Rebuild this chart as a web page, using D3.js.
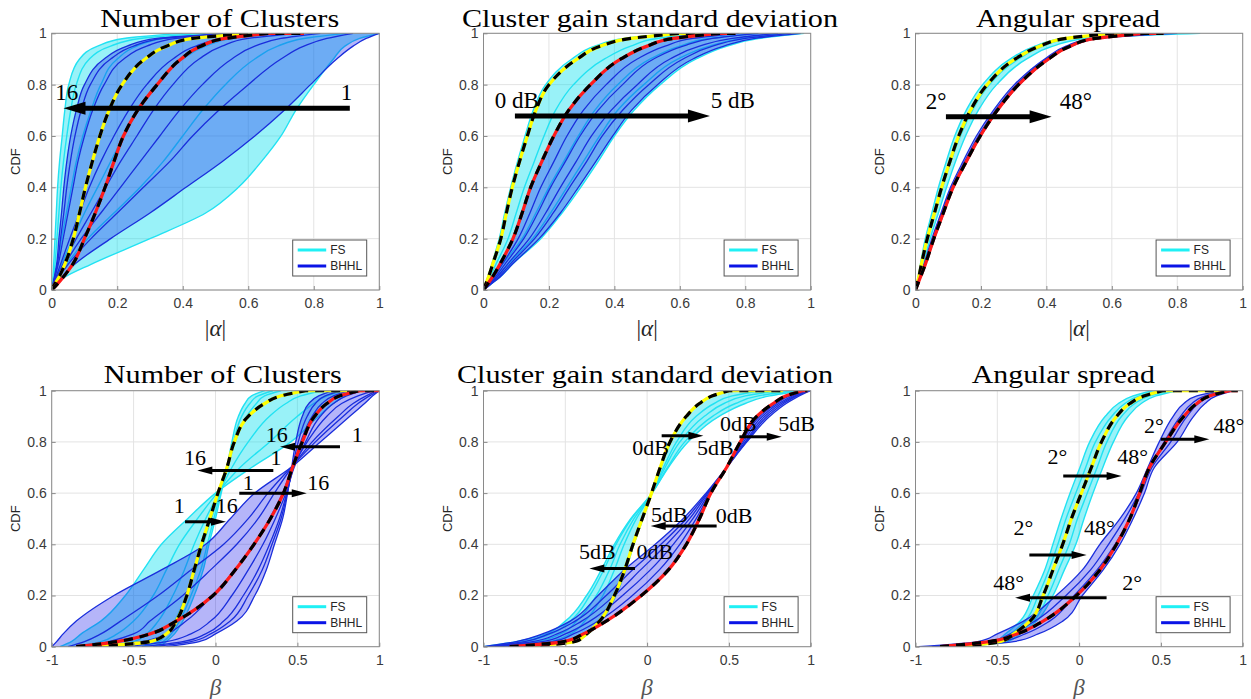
<!DOCTYPE html>
<html>
<head>
<meta charset="utf-8">
<script src="https://cdn.jsdelivr.net/npm/d3@7"></script>
<style>
  body { margin: 0; background: #fff; }
  svg { display: block; }
</style>
</head>
<body>
<div id="chart"></div>
<script>
// CDF levels at which every curve is sampled (x value of each curve at that CDF)
var cdfLevels = [0, 0.02, 0.05, 0.1, 0.2, 0.3, 0.4, 0.5, 0.6, 0.7, 0.8, 0.9, 0.95, 0.98, 1];
var yTicks = [0, 0.2, 0.4, 0.6, 0.8, 1];
var alphaTicks = [0, 0.2, 0.4, 0.6, 0.8, 1];
var betaTicks = [-1, -0.5, 0, 0.5, 1];
var titles = ["Number of Clusters", "Cluster gain standard deviation", "Angular spread"];
var legendNames = ["FS", "BHHL"];

// ---- top row, |alpha| ----
// Number of clusters: first row = 16 clusters, last row = 1 cluster
var p1FS = [
  [0, .002, .004, .006, .01, .014, .018, .024, .032, .04, .052, .085, .14, .22, .4],
  [0, .003, .006, .01, .016, .022, .028, .036, .046, .058, .075, .115, .18, .27, .47],
  [0, .004, .009, .017, .03, .045, .06, .075, .095, .12, .15, .2, .26, .34, .55],
  [0, .006, .015, .03, .065, .1, .14, .18, .22, .265, .32, .4, .47, .55, .7],
  [0, .008, .02, .045, .11, .19, .27, .34, .4, .46, .53, .62, .69, .77, .9],
  [0, .01, .04, .12, .3, .47, .57, .64, .7, .745, .8, .86, .895, .94, 1]
];
var p1BH = [
  [0, .003, .008, .015, .022, .03, .037, .046, .058, .075, .1, .16, .23, .32, .55],
  [0, .0035, .009, .017, .027, .037, .046, .057, .071, .09, .118, .18, .25, .34, .57],
  [0, .004, .01, .02, .035, .05, .065, .08, .1, .125, .16, .22, .29, .38, .6],
  [0, .005, .013, .027, .055, .085, .115, .15, .19, .235, .29, .37, .44, .53, .7],
  [0, .006, .016, .034, .075, .12, .165, .21, .26, .31, .37, .45, .52, .6, .75],
  [0, .007, .018, .04, .09, .15, .21, .27, .33, .39, .46, .55, .62, .7, .82],
  [0, .008, .022, .05, .12, .2, .28, .36, .43, .51, .6, .7, .77, .84, .92],
  [0, .01, .03, .07, .18, .3, .41, .52, .62, .71, .79, .87, .92, .96, 1]
];
var p1FSref = [0, .008, .022, .04, .066, .085, .103, .124, .147, .175, .215, .285, .35, .43, .62];
var p1BHref = [0, .015, .035, .064, .1, .133, .163, .19, .219, .262, .322, .395, .455, .53, .66];
var p1Tails = [0.77, 0.77];
var p1Arrows = [[0.91, 0.708, 0.036, 0.708]];
var p1Labels = [[0.046, 0.771, "16"], [0.9, 0.771, "1"]];

// Cluster gain std: first row = 0 dB, last row = 5 dB
var p2FS = [
  [0, .005, .013, .025, .048, .065, .083, .104, .127, .152, .19, .27, .34, .43, .58],
  [0, .008, .02, .038, .075, .1, .125, .155, .185, .22, .275, .37, .45, .53, .68],
  [0, .012, .03, .058, .118, .16, .2, .245, .29, .34, .41, .51, .6, .69, .84],
  [0, .016, .04, .075, .15, .205, .255, .305, .355, .41, .49, .595, .69, .79, .93],
  [0, .02, .05, .088, .175, .24, .297, .35, .40, .46, .54, .65, .745, .84, .98]
];
var p2BH = [
  [0, .011, .027, .05, .09, .118, .144, .178, .215, .26, .327, .42, .5, .58, .72],
  [0, .013, .031, .057, .106, .142, .175, .215, .255, .305, .375, .47, .555, .64, .78],
  [0, .015, .036, .065, .123, .166, .205, .25, .295, .35, .425, .52, .61, .7, .84],
  [0, .017, .041, .073, .14, .19, .235, .283, .33, .39, .47, .57, .66, .76, .9],
  [0, .019, .046, .081, .156, .213, .263, .315, .363, .425, .505, .61, .70, .80, .94],
  [0, .02, .05, .088, .17, .235, .29, .343, .395, .452, .532, .64, .735, .83, .97]
];
var p2FSref = [0, .006, .015, .028, .053, .07, .088, .11, .134, .16, .2, .287, .358, .45, .6];
var p2BHref = [0, .011, .027, .05, .09, .118, .144, .178, .215, .26, .327, .42, .5, .58, .72];
var p2Tails = [0.765, 0.77];
var p2Arrows = [[0.096, 0.678, 0.692, 0.678]];
var p2Labels = [[0.102, 0.74, "0 dB"], [0.762, 0.74, "5 dB"]];

// Angular spread: first row = 2 deg, last row = 48 deg
var p3FS = [
  [0, .003, .008, .015, .03, .05, .07, .094, .12, .155, .205, .29, .365, .45, .6],
  [0, .004, .01, .019, .037, .06, .083, .108, .137, .174, .226, .315, .39, .47, .7],
  [0, .005, .012, .024, .045, .07, .095, .122, .153, .192, .248, .34, .42, .52, .87]
];
var p3BH = [
  [0, .005, .013, .026, .05, .078, .107, .145, .186, .238, .302, .395, .46, .54, .72],
  [0, .0055, .014, .028, .053, .081, .111, .15, .192, .244, .308, .4, .467, .55, .76],
  [0, .006, .016, .031, .058, .087, .117, .157, .2, .252, .318, .41, .477, .56, .8]
];
var p3FSref = [0, .004, .01, .018, .036, .058, .08, .105, .132, .168, .219, .305, .38, .46, .6];
var p3BHref = [0, .006, .015, .03, .056, .085, .115, .155, .198, .25, .315, .407, .473, .55, .7];
var p3Tails = [0.7, 0.758];
var p3Arrows = [[0.093, 0.675, 0.416, 0.675]];
var p3Labels = [[0.063, 0.736, "2°"], [0.49, 0.736, "48°"]];

// ---- bottom row, beta ----
var p4FS = [
  [-0.95, -0.88, -0.82, -0.7, -0.55, -0.44, -0.33, -0.17, 0.0, 0.22, 0.46, 0.63, 0.72, 0.79, 0.85],
  [-0.85, -0.7, -0.6, -0.5, -0.38, -0.3, -0.22, -0.11, 0.01, 0.15, 0.33, 0.5, 0.6, 0.68, 0.78],
  [-0.7, -0.5, -0.42, -0.35, -0.26, -0.19, -0.13, -0.06, 0.02, 0.1, 0.2, 0.33, 0.43, 0.52, 0.65],
  [-0.45, -0.35, -0.3, -0.25, -0.18, -0.12, -0.075, -0.025, 0.025, 0.075, 0.12, 0.19, 0.25, 0.3, 0.4],
  [-0.38, -0.32, -0.27, -0.22, -0.15, -0.09, -0.05, -0.01, 0.03, 0.07, 0.11, 0.16, 0.21, 0.26, 0.35],
  [-0.34, -0.3, -0.25, -0.2, -0.13, -0.075, -0.04, 0.0, 0.035, 0.07, 0.1, 0.14, 0.18, 0.22, 0.3]
];
var p4BH = [
  [-1, -0.97, -0.93, -0.85, -0.62, -0.33, -0.06, 0.09, 0.24, 0.46, 0.64, 0.82, 0.91, 0.96, 1],
  [-0.9, -0.8, -0.7, -0.58, -0.35, -0.15, 0.05, 0.2, 0.32, 0.46, 0.61, 0.78, 0.87, 0.94, 1],
  [-0.8, -0.65, -0.5, -0.4, -0.2, -0.03, 0.13, 0.26, 0.36, 0.465, 0.59, 0.75, 0.84, 0.92, 0.99],
  [-0.7, -0.45, -0.3, -0.18, -0.02, 0.12, 0.24, 0.33, 0.41, 0.47, 0.56, 0.68, 0.77, 0.87, 0.97],
  [-0.55, -0.3, -0.15, -0.03, 0.1, 0.2, 0.29, 0.365, 0.43, 0.48, 0.55, 0.64, 0.72, 0.8, 0.9],
  [-0.45, -0.2, -0.06, 0.05, 0.17, 0.26, 0.33, 0.39, 0.435, 0.475, 0.52, 0.59, 0.65, 0.72, 0.82],
  [-0.38, -0.15, -0.03, 0.09, 0.2, 0.285, 0.345, 0.4, 0.438, 0.47, 0.505, 0.56, 0.61, 0.67, 0.77],
  [-0.3, -0.1, 0.0, 0.13, 0.24, 0.31, 0.36, 0.41, 0.44, 0.465, 0.49, 0.53, 0.57, 0.63, 0.72]
];
var p4FSref = [-0.75, -0.4, -0.3, -0.24, -0.175, -0.13, -0.085, -0.035, 0.015, 0.07, 0.115, 0.2, 0.3, 0.4, 0.55];
var p4BHref = [-0.85, -0.6, -0.4, -0.24, -0.015, 0.12, 0.235, 0.335, 0.415, 0.47, 0.53, 0.605, 0.68, 0.76, 0.88];
var p4Tails = [0.9, 1.0];
var p4Arrows = [[0.76, 0.781, 0.394, 0.781], [0.353, 0.688, -0.111, 0.688],
                [0.145, 0.599, 0.557, 0.599], [-0.186, 0.488, 0.064, 0.488]];
var p4Labels = [[0.374, 0.83, "16"], [0.866, 0.83, "1"], [-0.125, 0.74, "16"], [0.369, 0.74, "1"],
                [0.2, 0.64, "1"], [0.628, 0.64, "16"], [-0.221, 0.551, "1"], [0.068, 0.551, "16"]];

var p5FS = [
  [-0.75, -0.45, -0.36, -0.28, -0.19, -0.13, -0.08, -0.025, 0.03, 0.085, 0.145, 0.24, 0.32, 0.4, 0.5],
  [-0.85, -0.6, -0.47, -0.38, -0.27, -0.2, -0.14, -0.065, 0.03, 0.1, 0.18, 0.3, 0.41, 0.52, 0.7],
  [-0.92, -0.68, -0.53, -0.43, -0.31, -0.23, -0.165, -0.08, 0.03, 0.11, 0.2, 0.35, 0.47, 0.6, 0.8],
  [-0.97, -0.75, -0.59, -0.47, -0.35, -0.265, -0.19, -0.095, 0.03, 0.125, 0.23, 0.4, 0.54, 0.68, 0.9],
  [-1, -0.8, -0.62, -0.5, -0.37, -0.28, -0.2, -0.1, 0.03, 0.13, 0.25, 0.44, 0.6, 0.75, 0.95]
];
var p5BH = [
  [-0.85, -0.5, -0.39, -0.25, -0.035, 0.13, 0.24, 0.32, 0.39, 0.486, 0.57, 0.67, 0.77, 0.85, 0.95],
  [-0.9, -0.58, -0.45, -0.3, -0.09, 0.075, 0.2, 0.3, 0.385, 0.486, 0.58, 0.69, 0.79, 0.87, 0.96],
  [-0.93, -0.64, -0.5, -0.35, -0.15, 0.02, 0.16, 0.28, 0.38, 0.486, 0.59, 0.705, 0.805, 0.89, 0.97],
  [-0.96, -0.7, -0.55, -0.4, -0.2, -0.04, 0.12, 0.26, 0.372, 0.486, 0.6, 0.72, 0.82, 0.905, 0.98],
  [-0.98, -0.75, -0.6, -0.44, -0.25, -0.09, 0.085, 0.24, 0.366, 0.486, 0.605, 0.735, 0.835, 0.915, 0.99],
  [-1, -0.8, -0.64, -0.47, -0.3, -0.14, 0.05, 0.22, 0.36, 0.486, 0.61, 0.75, 0.85, 0.93, 1]
];
var p5FSref = [-0.75, -0.44, -0.37, -0.29, -0.2, -0.137, -0.086, -0.03, 0.027, 0.08, 0.14, 0.24, 0.32, 0.4, 0.5];
var p5BHref = [-0.84, -0.51, -0.39, -0.25, -0.035, 0.13, 0.24, 0.32, 0.39, 0.486, 0.57, 0.67, 0.77, 0.85, 0.95];
var p5Tails = [0.83, 0.98];
var p5Arrows = [[0.089, 0.824, 0.344, 0.824], [0.564, 0.82, 0.823, 0.82],
                [0.425, 0.471, 0.022, 0.471], [-0.074, 0.305, -0.353, 0.305]];
var p5Labels = [[0.022, 0.779, "0dB"], [0.417, 0.779, "5dB"], [0.557, 0.873, "0dB"], [0.914, 0.873, "5dB"],
                [0.136, 0.518, "5dB"], [0.531, 0.514, "0dB"], [-0.304, 0.373, "5dB"], [0.048, 0.373, "0dB"]];

var p6FS = [
  [-0.8, -0.52, -0.45, -0.36, -0.28, -0.21, -0.16, -0.11, -0.055, 0.005, 0.065, 0.16, 0.24, 0.33, 0.45],
  [-0.77, -0.5, -0.42, -0.33, -0.25, -0.185, -0.13, -0.08, -0.02, 0.04, 0.1, 0.2, 0.28, 0.37, 0.5],
  [-0.72, -0.46, -0.38, -0.28, -0.19, -0.125, -0.06, -0.01, 0.05, 0.11, 0.17, 0.26, 0.34, 0.43, 0.55],
  [-0.7, -0.44, -0.36, -0.26, -0.16, -0.09, -0.02, 0.03, 0.085, 0.145, 0.21, 0.3, 0.38, 0.47, 0.6]
];
var p6BH = [
  [-0.98, -0.62, -0.5, -0.34, -0.14, 0.02, 0.127, 0.25, 0.35, 0.42, 0.49, 0.575, 0.64, 0.72, 0.88],
  [-0.9, -0.55, -0.42, -0.27, -0.08, 0.07, 0.18, 0.28, 0.365, 0.43, 0.52, 0.62, 0.69, 0.77, 0.9],
  [-0.85, -0.48, -0.33, -0.18, -0.03, 0.11, 0.22, 0.31, 0.38, 0.445, 0.56, 0.66, 0.73, 0.81, 0.93],
  [-0.8, -0.4, -0.25, -0.1, 0.02, 0.147, 0.25, 0.33, 0.4, 0.46, 0.6, 0.7, 0.77, 0.84, 0.95]
];
var p6FSref = [-0.75, -0.48, -0.4, -0.3, -0.22, -0.16, -0.1, -0.047, 0.014, 0.075, 0.137, 0.23, 0.31, 0.4, 0.51];
var p6BHref = [-0.85, -0.55, -0.38, -0.22, -0.016, 0.127, 0.229, 0.31, 0.37, 0.43, 0.53, 0.64, 0.72, 0.8, 0.92];
var p6Tails = [0.9, 0.97];
var p6Arrows = [[-0.097, 0.667, 0.26, 0.667], [0.499, 0.81, 0.796, 0.81],
                [-0.304, 0.358, 0.046, 0.358], [0.168, 0.191, -0.392, 0.191]];
var p6Labels = [[-0.133, 0.742, "2°"], [0.328, 0.742, "48°"], [0.458, 0.866, "2°"], [0.916, 0.866, "48°"],
                [-0.341, 0.466, "2°"], [0.124, 0.466, "48°"], [-0.43, 0.251, "48°"], [0.325, 0.251, "2°"]];

var panels = [
  {fs: p1FS, bh: p1BH, fsRef: p1FSref, bhRef: p1BHref, tails: p1Tails, arrows: p1Arrows, labels: p1Labels},
  {fs: p2FS, bh: p2BH, fsRef: p2FSref, bhRef: p2BHref, tails: p2Tails, arrows: p2Arrows, labels: p2Labels},
  {fs: p3FS, bh: p3BH, fsRef: p3FSref, bhRef: p3BHref, tails: p3Tails, arrows: p3Arrows, labels: p3Labels},
  {fs: p4FS, bh: p4BH, fsRef: p4FSref, bhRef: p4BHref, tails: p4Tails, arrows: p4Arrows, labels: p4Labels},
  {fs: p5FS, bh: p5BH, fsRef: p5FSref, bhRef: p5BHref, tails: p5Tails, arrows: p5Arrows, labels: p5Labels},
  {fs: p6FS, bh: p6BH, fsRef: p6FSref, bhRef: p6BHref, tails: p6Tails, arrows: p6Arrows, labels: p6Labels}
];

// layout (pixels)
var W = 1251, H = 699;
var colX = [[51.7, 379.3], [483.5, 810.7], [915.5, 1242.7]];
var rowY = [[290, 33.3], [646.7, 390.7]];
var titlePos = [[219.7, 239], [650, 376], [1068, 184], [222.8, 238], [645, 376], [1063.3, 183]];
var titleBase = [26.5, 382.7];
var sans = "'Liberation Sans', Arial, sans-serif";
var serif = "'Liberation Serif', 'Times New Roman', serif";

var fsLine = "#22e2f2", bhLine = "#1a2edc";

var svg = d3.select("#chart").append("svg")
    .attr("width", W).attr("height", H);

function arrow(g, x1, y1, x2, y2, w, hl, hw) {
  var dx = x2 - x1, dy = y2 - y1, len = Math.sqrt(dx * dx + dy * dy);
  var ux = dx / len, uy = dy / len;
  var bx = x2 - ux * hl, by = y2 - uy * hl;
  g.append("line")
      .attr("x1", x1).attr("y1", y1).attr("x2", bx + ux * 2).attr("y2", by + uy * 2)
      .attr("stroke", "#000").attr("stroke-width", w);
  g.append("path")
      .attr("d", "M" + x2 + "," + y2 +
                 "L" + (bx - uy * hw / 2) + "," + (by + ux * hw / 2) +
                 "L" + (bx + uy * hw / 2) + "," + (by - ux * hw / 2) + "Z")
      .attr("fill", "#000");
}

panels.forEach(function (p, i) {
  var col = i % 3, row = Math.floor(i / 3);
  var xs = d3.scaleLinear().domain(row == 0 ? [0, 1] : [-1, 1]).range(colX[col]);
  var ys = d3.scaleLinear().domain([0, 1]).range(rowY[row]);
  var x0 = colX[col][0], x1 = colX[col][1], yb = rowY[row][0], yt = rowY[row][1];
  var xTicks = row == 0 ? alphaTicks : betaTicks;

  var g = svg.append("g");
  var clipId = "clip" + i;
  g.append("clipPath").attr("id", clipId).append("rect")
      .attr("x", x0).attr("y", yt).attr("width", x1 - x0).attr("height", yb - yt);

  // grid
  g.selectAll(".gx").data(xTicks).enter().append("line")
      .attr("x1", function (d) { return xs(d); }).attr("x2", function (d) { return xs(d); })
      .attr("y1", yt).attr("y2", yb).attr("stroke", "#e3e3e3");
  g.selectAll(".gy").data(yTicks).enter().append("line")
      .attr("y1", function (d) { return ys(d); }).attr("y2", function (d) { return ys(d); })
      .attr("x1", x0).attr("x2", x1).attr("stroke", "#e3e3e3");

  var plot = g.append("g").attr("clip-path", "url(#" + clipId + ")");

  function band(a, b) {
    return d3.area()
        .y(function (d, k) { return ys(cdfLevels[k]); })
        .x0(function (d, k) { return xs(a[k]); })
        .x1(function (d, k) { return xs(b[k]); })
        .curve(d3.curveMonotoneY)(cdfLevels);
  }
  var line = d3.line()
      .x(function (d) { return xs(d); })
      .y(function (d, k) { return ys(cdfLevels[k]); })
      .curve(d3.curveMonotoneY);

  // FS band + lines
  plot.append("path").attr("d", band(p.fs[0], p.fs[p.fs.length - 1]))
      .attr("fill", "rgb(0,222,238)").attr("fill-opacity", 0.4);
  p.fs.forEach(function (c) {
    plot.append("path").attr("d", line(c)).attr("fill", "none")
        .attr("stroke", fsLine).attr("stroke-width", 1.4);
  });
  // BHHL band + lines
  plot.append("path").attr("d", band(p.bh[0], p.bh[p.bh.length - 1]))
      .attr("fill", "rgb(10,10,235)").attr("fill-opacity", 0.3);
  p.bh.forEach(function (c) {
    plot.append("path").attr("d", line(c)).attr("fill", "none")
        .attr("stroke", bhLine).attr("stroke-width", 1.3);
  });

  // reference curves: solid colour under black dashes, with flat tail at CDF = 1
  [[p.fsRef, "#ffff00", p.tails[0]], [p.bhRef, "#ff1a1a", p.tails[1]]].forEach(function (r) {
    var d = line(r[0]) + "L" + xs(r[2]) + "," + ys(1);
    plot.append("path").attr("d", d).attr("fill", "none")
        .attr("stroke", r[1]).attr("stroke-width", 3.2);
    plot.append("path").attr("d", d).attr("fill", "none")
        .attr("stroke", "#000").attr("stroke-width", 3.2)
        .attr("stroke-dasharray", "9,7");
  });

  // axes box
  g.append("rect").attr("x", x0).attr("y", yt).attr("width", x1 - x0).attr("height", yb - yt)
      .attr("fill", "none").attr("stroke", "#8a8a8a").attr("stroke-width", 1);

  var ax = g.append("g").attr("transform", "translate(0," + yb + ")")
      .call(d3.axisBottom(xs).tickValues(xTicks).tickSize(-4).tickPadding(8)
            .tickFormat(function (d) { return String(d); }));
  var ay = g.append("g").attr("transform", "translate(" + x0 + ",0)")
      .call(d3.axisLeft(ys).tickValues(yTicks).tickSize(-4).tickPadding(5)
            .tickFormat(function (d) { return String(d); }));
  [ax, ay].forEach(function (a) {
    a.select(".domain").remove();
    a.selectAll(".tick line").attr("stroke", "#8a8a8a");
    a.selectAll("text").attr("font-family", sans).attr("font-size", 14).attr("fill", "#3a3a3a");
  });

  // axis labels
  g.append("text")
      .attr("transform", "translate(" + (x0 - 36.5) + "," + ((yt + yb) / 2) + ") rotate(-90)")
      .attr("text-anchor", "middle").attr("dominant-baseline", "central")
      .attr("font-family", sans).attr("font-size", 13).attr("fill", "#262626")
      .text("CDF");
  var xl = g.append("text")
      .attr("x", (x0 + x1) / 2).attr("y", row == 0 ? 328 : 687)
      .attr("text-anchor", "middle").attr("dominant-baseline", "central")
      .attr("font-family", serif).attr("font-size", 23);
  if (row == 0) {
    xl.attr("fill", "#262626");
    xl.append("tspan").text("|");
    xl.append("tspan").attr("font-style", "italic").text("α");
    xl.append("tspan").text("|");
  } else {
    xl.attr("fill", "#555").attr("font-style", "italic").text("β");
  }

  // title
  g.append("text")
      .attr("x", titlePos[i][0]).attr("y", titleBase[row])
      .attr("text-anchor", "middle")
      .attr("font-family", serif).attr("font-size", 25).attr("fill", "#000")
      .attr("textLength", titlePos[i][1]).attr("lengthAdjust", "spacingAndGlyphs")
      .text(titles[col]);

  // legend
  var lx = x1 - 12.6 - 74, ly = yb - 14 - 36;
  var lg = g.append("g").attr("transform", "translate(" + lx + "," + ly + ")");
  lg.append("rect").attr("width", 74).attr("height", 36)
      .attr("fill", "#fff").attr("stroke", "#555").attr("stroke-width", 1);
  legendNames.forEach(function (name, k) {
    var yy = 10 + k * 16;
    lg.append("line").attr("x1", 5).attr("x2", 33.5).attr("y1", yy).attr("y2", yy)
        .attr("stroke", k == 0 ? "#1ff0f5" : "#0a14e6").attr("stroke-width", 3);
    lg.append("text").attr("x", 37.5).attr("y", yy).attr("dominant-baseline", "central")
        .attr("font-family", sans).attr("font-size", 12).attr("fill", "#262626")
        .text(name);
  });

  // arrows and their labels
  p.arrows.forEach(function (a) {
    if (row == 0) arrow(g, xs(a[0]), ys(a[1]), xs(a[2]), ys(a[3]), 5, 22, 13);
    else arrow(g, xs(a[0]), ys(a[1]), xs(a[2]), ys(a[3]), 3, 15, 8);
  });
  p.labels.forEach(function (l) {
    g.append("text")
        .attr("x", xs(l[0])).attr("y", ys(l[1]))
        .attr("text-anchor", "middle").attr("dominant-baseline", "central")
        .attr("font-family", serif).attr("font-size", row == 0 ? 23 : 22).attr("fill", "#000")
        .text(l[2]);
  });
});
</script>
</body>
</html>
